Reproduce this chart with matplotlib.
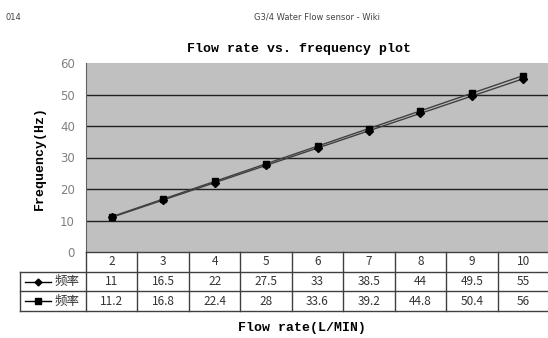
import numpy as np
import matplotlib.pyplot as plt

# data
flow_rate = [2, 3, 4, 5, 6, 7, 8, 9, 10]
freq_1 = [11, 16.5, 22, 27.5, 33, 38.5, 44, 49.5, 55]
freq_2 = [11.2, 16.8, 22.4, 28, 33.6, 39.2, 44.8, 50.4, 56]
labels_1 = ['11', '16.5', '22', '27.5', '33', '38.5', '44', '49.5', '55']
labels_2 = ['11.2', '16.8', '22.4', '28', '33.6', '39.2', '44.8', '50.4', '56']
series_name = '频率'
y_ticks = [0, 10, 20, 30, 40, 50, 60]

W, H = 548, 338
fig = plt.figure(figsize=(W / 100, H / 100), dpi=100)

mono = 'Liberation Mono'
cjk = ['Noto Sans CJK SC', 'DejaVu Sans']

# page header
fig.text(6 / W, 1 - 17 / H, '014', fontsize=6, color='#444444', va='center')
fig.text(317 / W, 1 - 17 / H, 'G3/4 Water Flow sensor - Wiki', fontsize=6,
         color='#444444', va='center', ha='center')

# main plot area
left, right, top, bottom = 86, 549, 63, 252
ax = fig.add_axes([left / W, 1 - bottom / H, (right - left) / W, (bottom - top) / H])
ax.set_facecolor('#c0c0c0')
ax.set_xlim(1.5, 10.5)
ax.set_ylim(0, 60)
ax.set_yticks(y_ticks)
ax.set_yticklabels([str(v) for v in y_ticks], color='#808080', fontsize=8.5)
ax.tick_params(axis='y', length=0, pad=8)
ax.set_xticks([])
for v in y_ticks[1:-1]:
    ax.axhline(v, color='#202020', lw=1, zorder=1)
for s in ['top', 'right', 'bottom']:
    ax.spines[s].set_visible(False)
ax.spines['left'].set_color('#606060')

ax.plot(flow_rate, freq_1, color='#404040', lw=1, marker='D', ms=4.5,
        mfc='black', mec='black', zorder=3)
ax.plot(flow_rate, freq_2, color='#404040', lw=1, marker='s', ms=5,
        mfc='black', mec='black', zorder=3)

ax.set_title('Flow rate vs. frequency plot', fontfamily=mono, fontweight='bold',
             fontsize=9.5, pad=8, x=0.46)
ax.set_ylabel('Frequency(Hz)', fontfamily=mono, fontweight='bold', fontsize=9.5,
              labelpad=10)

# data table below the plot
col_w = (right - left) / 9
t_left, t_bottom = 20, 311
tx0 = 1.5 - (left - t_left) / col_w
tax = fig.add_axes([t_left / W, 1 - t_bottom / H, (right - t_left) / W, (t_bottom - bottom) / H])
tax.set_xlim(tx0, 10.5)
tax.set_ylim(0, 3)
tax.axis('off')
lc = '#404040'
# horizontal lines
tax.plot([1.5, 10.5], [3, 3], color=lc, lw=1, clip_on=False)
for yv in [2, 1, 0]:
    tax.plot([tx0, 10.5], [yv, yv], color=lc, lw=1, clip_on=False)
# vertical lines
tax.plot([tx0, tx0], [0, 2], color=lc, lw=1, clip_on=False)
for xv in np.arange(1.5, 10.6, 1):
    tax.plot([xv, xv], [0, 3], color=lc, lw=1, clip_on=False)

txt = dict(ha='center', va='center', fontsize=8.5, color='#333333', fontfamily=cjk)
for i, x in enumerate(flow_rate):
    tax.text(x, 2.5, str(x), **txt)
    tax.text(x, 1.5, labels_1[i], **txt)
    tax.text(x, 0.5, labels_2[i], **txt)

# legend keys in the first column
kx = tx0 + 0.1
tax.plot([kx, kx + 0.5], [1.5, 1.5], color='black', lw=1)
tax.plot([kx + 0.25], [1.5], marker='D', ms=3.5, color='black')
tax.plot([kx, kx + 0.5], [0.5, 0.5], color='black', lw=1)
tax.plot([kx + 0.25], [0.5], marker='s', ms=4, color='black')
tax.text(kx + 0.58, 1.5, series_name, ha='left', va='center', fontsize=9,
         color='#333333', fontfamily=cjk)
tax.text(kx + 0.58, 0.5, series_name, ha='left', va='center', fontsize=9,
         color='#333333', fontfamily=cjk)

fig.text(302 / W, 1 - 328 / H, 'Flow rate(L/MIN)', fontfamily=mono,
         fontweight='bold', fontsize=9.5, ha='center', va='center')

fig.savefig('out.png', dpi=100)
